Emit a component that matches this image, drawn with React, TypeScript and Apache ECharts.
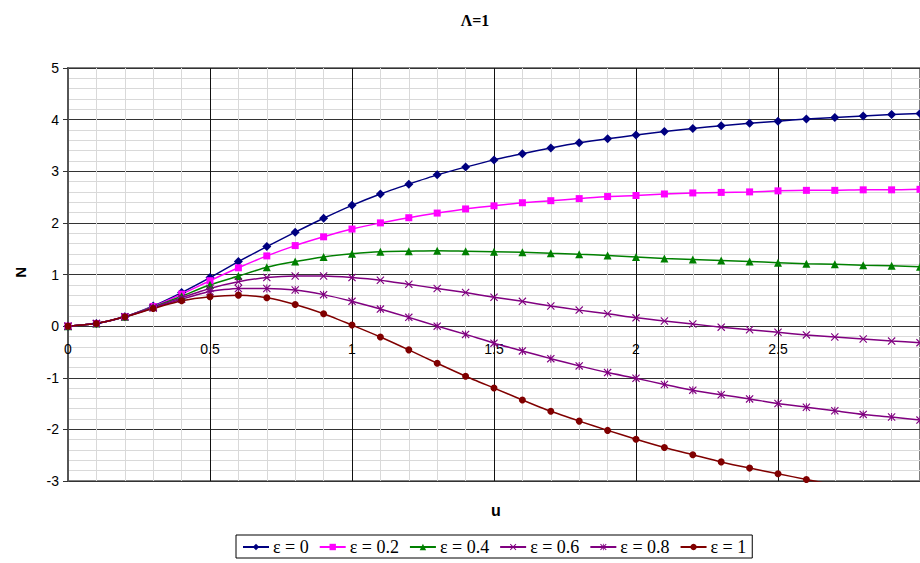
import React, { useEffect, useRef } from "react";
import * as echarts from "echarts";

const uValues = [0, 0.1, 0.2, 0.3, 0.4, 0.5, 0.6, 0.7, 0.8, 0.9, 1.0, 1.1, 1.2, 1.3, 1.4, 1.5, 1.6, 1.7, 1.8, 1.9, 2.0, 2.1, 2.2, 2.3, 2.4, 2.5, 2.6, 2.7, 2.8, 2.9, 3.0];

const eps0 = [0, 0.05, 0.18, 0.39, 0.65, 0.94, 1.25, 1.54, 1.82, 2.09, 2.34, 2.56, 2.75, 2.93, 3.08, 3.22, 3.34, 3.45, 3.55, 3.63, 3.70, 3.77, 3.83, 3.88, 3.93, 3.97, 4.01, 4.04, 4.07, 4.10, 4.12];
const eps02 = [0, 0.05, 0.18, 0.38, 0.62, 0.88, 1.13, 1.36, 1.56, 1.73, 1.88, 2.00, 2.10, 2.19, 2.27, 2.33, 2.39, 2.43, 2.47, 2.51, 2.53, 2.56, 2.58, 2.59, 2.60, 2.62, 2.63, 2.63, 2.64, 2.64, 2.65];
const eps04 = [0, 0.05, 0.18, 0.37, 0.58, 0.80, 0.97, 1.14, 1.25, 1.34, 1.40, 1.44, 1.45, 1.46, 1.45, 1.44, 1.43, 1.41, 1.39, 1.37, 1.34, 1.31, 1.29, 1.27, 1.25, 1.23, 1.21, 1.20, 1.18, 1.17, 1.15];
const eps06 = [0, 0.05, 0.18, 0.36, 0.55, 0.73, 0.86, 0.94, 0.97, 0.97, 0.94, 0.89, 0.81, 0.73, 0.65, 0.56, 0.48, 0.39, 0.31, 0.24, 0.16, 0.10, 0.04, -0.02, -0.07, -0.12, -0.17, -0.21, -0.25, -0.29, -0.32];
const eps08 = [0, 0.05, 0.18, 0.35, 0.52, 0.67, 0.73, 0.73, 0.70, 0.61, 0.48, 0.33, 0.17, 0.0, -0.16, -0.33, -0.48, -0.63, -0.77, -0.90, -1.01, -1.13, -1.24, -1.33, -1.41, -1.50, -1.57, -1.64, -1.71, -1.76, -1.82];
const eps1 = [0, 0.05, 0.18, 0.34, 0.49, 0.57, 0.60, 0.55, 0.42, 0.24, 0.02, -0.21, -0.46, -0.72, -0.97, -1.20, -1.43, -1.65, -1.84, -2.02, -2.19, -2.35, -2.49, -2.63, -2.75, -2.86, -2.97, -3.08, -3.18, -3.28, -3.37];

const seriesNames = ["ε = 0", "ε = 0.2", "ε = 0.4", "ε = 0.6", "ε = 0.8", "ε = 1"];
const seriesValues = [eps0, eps02, eps04, eps06, eps08, eps1];
const seriesColors = ["#000080", "#FF00FF", "#008000", "#800080", "#800080", "#800000"];

const X_PATH = "path://M0,1 L1,0 L5,4 L9,0 L10,1 L6,5 L10,9 L9,10 L5,6 L1,10 L0,9 L4,5 Z";
const STAR_PATH = "path://M0,1 L1,0 L5,4 L9,0 L10,1 L6,5 L10,9 L9,10 L5,6 L1,10 L0,9 L4,5 Z M4.4,0 L5.6,0 L5.6,10 L4.4,10 Z";
const seriesSymbols = ["diamond", "rect", "triangle", X_PATH, STAR_PATH, "circle"];
const seriesSymbolSizes = [9, 7, 8, 8, 8, 7];

export default function App() {
  const ref = useRef<HTMLDivElement>(null);
  useEffect(() => {
    document.body.style.margin = "0";
    const chart = echarts.init(ref.current!, null, { renderer: "svg" });
    const option: any = {
      animation: false,
      backgroundColor: "#fff",
      title: {
        text: "Λ=1",
        left: 470,
        top: 7,
        textAlign: "center",
        textStyle: { fontFamily: "Liberation Serif", fontWeight: "bold", fontSize: 16, color: "#000" },
      },
      graphic: [
        {
          type: "text",
          left: 491,
          top: 502,
          style: { text: "u", font: "bold 16px 'Liberation Sans'", fill: "#000" },
        },
        {
          type: "text",
          left: 13,
          top: 267,
          rotation: Math.PI / 2,
          style: { text: "N", font: "bold 15px 'Liberation Sans'", fill: "#000" },
        },
      ],
      legend: {
        left: 236,
        top: 535,
        orient: "horizontal",
        borderColor: "#000",
        borderWidth: 1,
        padding: [3, 6, 2, 6],
        itemGap: 10,
        itemWidth: 26,
        itemHeight: 8,
        textStyle: { fontFamily: "Liberation Serif", fontSize: 18, color: "#000", padding: [0, 0, 0, -1] },
        data: seriesNames,
      },
      grid: {
        left: 68,
        top: 68,
        right: -4,
        bottom: 82,
        show: true,
        borderColor: "#808080",
        borderWidth: 2,
        backgroundColor: "transparent",
      },
      xAxis: {
        type: "value",
        min: 0,
        max: 3,
        interval: 0.5,
        position: "bottom",
        axisLine: { show: false },
        axisTick: { show: false },
        axisLabel: {
          margin: -139,
          fontFamily: "Liberation Sans",
          fontSize: 14,
          color: "#000",
          showMaxLabel: false,
        },
        splitLine: { show: true, lineStyle: { color: "#111", width: 1 } },
        minorTick: { show: false, splitNumber: 5 },
        minorSplitLine: { show: true, lineStyle: { color: "#d9d9d9", width: 1 } },
      },
      yAxis: {
        type: "value",
        min: -3,
        max: 5,
        interval: 1,
        position: "left",
        axisLine: { show: true, onZero: false, lineStyle: { color: "#555", width: 2 } },
        axisTick: { show: true, length: 5, lineStyle: { color: "#333", width: 1 } },
        axisLabel: { margin: 9, fontFamily: "Liberation Sans", fontSize: 14, color: "#000" },
        splitLine: { show: true, lineStyle: { color: "#333", width: 1 } },
        minorTick: { show: false, splitNumber: 5 },
        minorSplitLine: { show: true, lineStyle: { color: "#d9d9d9", width: 1 } },
      },
      series: seriesNames.map((name, i) => ({
        name,
        type: "line",
        data: uValues.map((u, j) => [u, seriesValues[i][j]]),
        symbol: seriesSymbols[i],
        symbolSize: seriesSymbolSizes[i],
        showAllSymbol: true,
        smooth: 0.2,
        clip: true,
        lineStyle: { color: seriesColors[i], width: 1.5 },
        itemStyle: { color: seriesColors[i], borderColor: seriesColors[i], borderWidth: 0 },
        emphasis: { disabled: true },
      })),
    };
    chart.setOption(option);
    return () => chart.dispose();
  }, []);
  return <div ref={ref} style={{ width: 920, height: 563, position: "absolute", left: 0, top: 0 }} />;
}
